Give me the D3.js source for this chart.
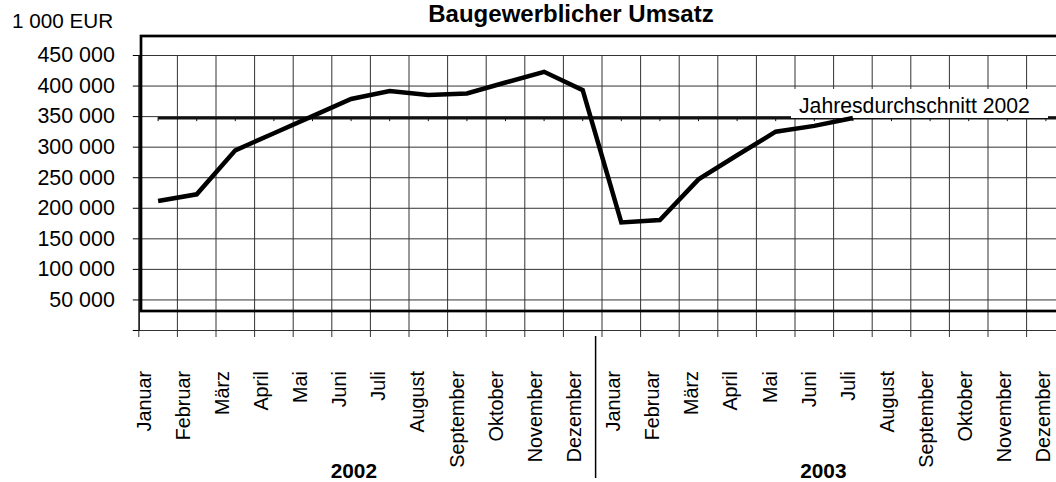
<!DOCTYPE html>
<html>
<head>
<meta charset="utf-8">
<script src="https://cdn.jsdelivr.net/npm/d3@7"></script>
<style>
  body { margin: 0; background: #fff; }
  text { font-family: "Liberation Sans", Arial, sans-serif; fill: #000; }
</style>
</head>
<body>
<div id="chart"></div>
<script>
// Monate und Jahre der Kategorieachse
const months = ["Januar", "Februar", "März", "April", "Mai", "Juni", "Juli",
  "August", "September", "Oktober", "November", "Dezember"];
const years = ["2002", "2003"];

// Baugewerblicher Umsatz in 1 000 EUR (Jan 2002 bis Jul 2003)
const umsatz = [211000, 222000, 294000, 322000, 350000, 378000, 391000, 384500,
  387000, 405000, 422500, 392500, 176000, 180000, 246500, 286000, 324500,
  334000, 347000];

const durchschnitt2002 = 346700;
const yTicks = [0, 50000, 100000, 150000, 200000, 250000, 300000, 350000, 400000, 450000];

const title = "Baugewerblicher Umsatz";
const unitLabel = "1 000 EUR";
const avgLabel = "Jahresdurchschnitt 2002";

const width = 1056, height = 482;

const categories = years.flatMap((yr) => months.map((m) => ({ key: yr + " " + m, year: yr, month: m })));
const keys = categories.map((c) => c.key);

const svg = d3.select("#chart").append("svg")
  .attr("width", width)
  .attr("height", height);

svg.append("rect").attr("width", width).attr("height", height).attr("fill", "#fff");

const x = d3.scaleBand().domain(keys).range([138.8, 1065.2]);
const y = d3.scaleLinear().domain([0, 450000]).range([330, 55]);
// Beschriftungen sitzen im Original etwas anders als die Datenpunkte
const xLabel = d3.scalePoint().domain(keys).range([143.7, 1043.5]);
const bw = x.bandwidth();

const fmt = d3.formatLocale({ decimal: ",", thousands: " ", grouping: [3], currency: ["", " EUR"] }).format(",d");

// horizontale Gitterlinien
svg.append("g")
  .attr("transform", `translate(${x.range()[0]},0)`)
  .call(d3.axisLeft(y).tickValues(yTicks).tickSize(-(x.range()[1] - x.range()[0])).tickFormat(""))
  .call((g) => g.select(".domain").remove())
  .call((g) => g.selectAll("line").attr("stroke", "#333").attr("stroke-width", 1));

// vertikale Gitterlinien (bis in die Teilstriche unter der Achse)
svg.append("g")
  .selectAll("line")
  .data(keys)
  .join("line")
  .attr("x1", (d) => x(d))
  .attr("x2", (d) => x(d))
  .attr("y1", y(450000))
  .attr("y2", y(0) + 7)
  .attr("stroke", "#333")
  .attr("stroke-width", 1);

// y-Achse mit Beschriftung
svg.append("g")
  .attr("transform", `translate(${x.range()[0]},0)`)
  .call(d3.axisLeft(y).tickValues(yTicks).tickSize(6).tickSizeOuter(0).tickPadding(18)
    .tickFormat((d) => (d === 0 ? "" : fmt(d))))
  .call((g) => g.selectAll("line, path").attr("stroke", "#000"))
  .call((g) => g.selectAll("text").attr("font-size", 21.4).attr("fill", "#000")
    .style("font-family", '"Liberation Sans", Arial, sans-serif'));

// dicker Rahmen
svg.append("rect")
  .attr("x", 141)
  .attr("y", 36)
  .attr("width", 1000)
  .attr("height", 275)
  .attr("fill", "none")
  .attr("stroke", "#000")
  .attr("stroke-width", 2.7);

// Jahresdurchschnitt
const avgY = y(durchschnitt2002);
svg.append("line")
  .attr("x1", x(keys[0]) + bw / 2)
  .attr("x2", x.range()[1])
  .attr("y1", avgY)
  .attr("y2", avgY)
  .attr("stroke", "#111")
  .attr("stroke-width", 2.6);

svg.append("g")
  .selectAll("line")
  .data(keys)
  .join("line")
  .attr("x1", (d) => x(d) + bw / 2)
  .attr("x2", (d) => x(d) + bw / 2)
  .attr("y1", avgY - 1)
  .attr("y2", avgY + 3)
  .attr("stroke", "#111")
  .attr("stroke-width", 1);

// Beschriftung des Durchschnitts
svg.append("rect")
  .attr("x", 791)
  .attr("y", 89)
  .attr("width", 257)
  .attr("height", 29)
  .attr("fill", "#fff");

svg.append("text")
  .attr("x", 799)
  .attr("y", 113)
  .attr("font-size", 21.2)
  .text(avgLabel);

// Umsatzlinie
const line = d3.line()
  .x((d, i) => x(keys[i]) + bw / 2)
  .y((d) => y(d));

svg.append("path")
  .datum(umsatz)
  .attr("d", line)
  .attr("fill", "none")
  .attr("stroke", "#000")
  .attr("stroke-width", 4.5)
  .attr("stroke-linejoin", "miter");

// Monatsbeschriftungen
svg.append("g")
  .selectAll("text")
  .data(categories)
  .join("text")
  .attr("transform", (d) => `translate(${xLabel(d.key)},371) rotate(-90)`)
  .attr("text-anchor", "end")
  .attr("dy", "0.35em")
  .attr("font-size", 19.8)
  .text((d) => d.month);

// Trennstrich zwischen den Jahren
const sepX = (xLabel(keys[11]) + xLabel(keys[12])) / 2 + 2;
svg.append("line")
  .attr("x1", sepX)
  .attr("x2", sepX)
  .attr("y1", 336)
  .attr("y2", 478)
  .attr("stroke", "#000")
  .attr("stroke-width", 1.5);

// Jahresbeschriftungen
svg.append("g")
  .selectAll("text")
  .data(years)
  .join("text")
  .attr("x", (yr) => d3.mean(categories.filter((c) => c.year === yr), (c) => xLabel(c.key)) - 5)
  .attr("y", 478)
  .attr("text-anchor", "middle")
  .attr("font-size", 20.8)
  .attr("font-weight", "bold")
  .text((yr) => yr);

// Titel und Einheit
svg.append("text")
  .attr("x", 571)
  .attr("y", 22)
  .attr("text-anchor", "middle")
  .attr("font-size", 24)
  .attr("font-weight", "bold")
  .text(title);

svg.append("text")
  .attr("x", 12)
  .attr("y", 28)
  .attr("font-size", 20.7)
  .text(unitLabel);
</script>
</body>
</html>
